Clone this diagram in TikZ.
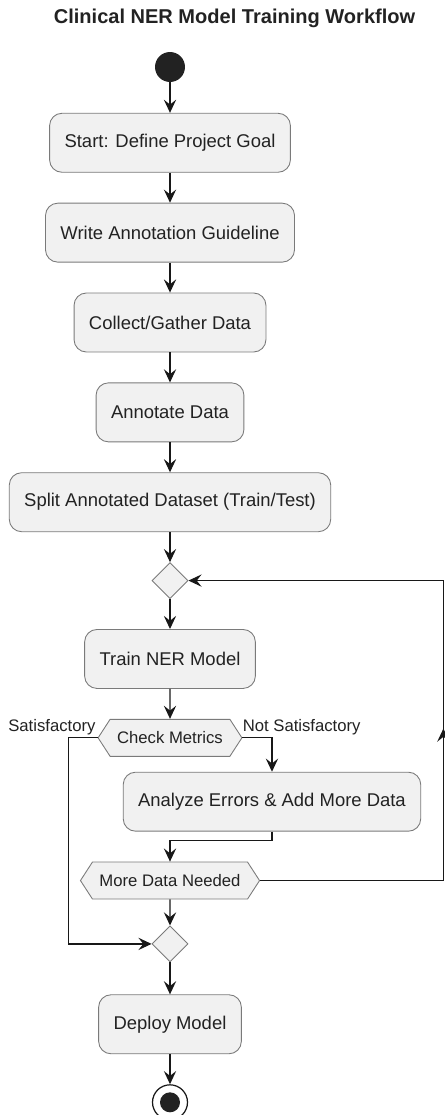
\documentclass[tikz,border=0pt]{standalone}
\usepackage{fontspec}
\setmainfont{Liberation Sans}
\usetikzlibrary{
  shapes.geometric,
  shapes.symbols,
  positioning,
  arrows.meta
}
\definecolor{umlfill}{HTML}{F1F1F1}
\definecolor{umlborder}{HTML}{7A7A7A}
\definecolor{umlline}{HTML}{181818}
\definecolor{umldark}{HTML}{222222}
\tikzset{
  >={Stealth[length=7.5pt,width=7pt,inset=2.8pt]},
  act/.style={rectangle,rounded corners=7pt,draw=umlborder,fill=umlfill,line width=0.5pt,
    minimum height=1.18cm,inner xsep=8.5pt,text=umldark,font=\fontsize{10.5}{12}\selectfont},
  merge/.style={diamond,draw=umlborder,fill=umlfill,line width=0.5pt,
    minimum width=0.72cm,minimum height=0.72cm,inner sep=0pt},
  test/.style={signal,signal to=west and east,signal pointer angle=114,draw=umlborder,
    fill=umlfill,line width=0.5pt,minimum height=0.74cm,inner xsep=4pt,text=umldark,
    font=\fontsize{9.5}{11}\selectfont},
  guard/.style={inner sep=0pt,text=umldark,font=\fontsize{9.5}{11}\selectfont},
  flow/.style={->,line width=0.7pt,draw=umlline}
}
\begin{document}
\begin{tikzpicture}[x=0.02cm,y=-0.02cm,node distance=0.6cm]
    \useasboundingbox (0,0) rectangle (445,1115);

    \node[font=\bfseries\fontsize{11.4}{13}\selectfont,text=umldark] (title) at (234.5,18) {Clinical NER Model Training Workflow};
    \node[circle,fill=umldark,minimum size=0.6cm,inner sep=0pt] (start) at (170,67) {};
    \node[act,below=0.61cm of start] (goal) {Start: Define Project Goal};
    \node[act,below=of goal] (guide) {Write Annotation Guideline};
    \node[act,below=of guide] (collect) {Collect/Gather Data};
    \node[act,below=of collect] (annot) {Annotate Data};
    \node[act,below=of annot] (split) {Split Annotated Dataset (Train/Test)};
    \node[merge,below=of split] (loop) {};
    \node[act,below=of loop] (train) {Train NER Model};
    \node[test,below=of train] (check) {Check Metrics};
    \node[act,below=0.3cm of check,xshift=2.04cm] (analyze) {Analyze Errors \& Add More Data};
    \node[test,below=of analyze,xshift=-2.04cm] (more) {More Data Needed};
    \node[merge,below=0.52cm of more] (join) {};
    \node[act,below=0.64cm of join] (deploy) {Deploy Model};
    \node[circle,draw=umlline,line width=0.7pt,fill=white,minimum size=0.7cm,inner sep=0pt,
      path picture={\fill[umldark] (path picture bounding box.center) circle (0.2cm);},
      below=of deploy] (stop) {};
    \coordinate (back) at ([xshift=5.1cm]loop.east);

    \node[guard,anchor=base east,yshift=0.13cm,xshift=-1pt] (sat) at (check.west) {Satisfactory};
    \node[guard,anchor=base west,yshift=0.13cm] (notsat) at (check.east) {Not Satisfactory};

    \draw[flow] (start) -- (goal);
    \draw[flow] (goal) -- (guide);
    \draw[flow] (guide) -- (collect);
    \draw[flow] (collect) -- (annot);
    \draw[flow] (annot) -- (split);
    \draw[flow] (split) -- (loop);
    \draw[flow] (loop) -- (train);
    \draw[flow] (train) -- (check);
    \draw[flow] (check.west) -- +(-29,0) |- (join.west);
    \draw[flow] (check.east) -| (analyze.north);
    \draw[flow] (analyze.south) -- +(0,9) -| (more.north);
    \draw[flow] (more.east) -| (back) -- (loop.east);
    \draw[flow] (more.east -| back) -- +(0,-152);
    \draw[flow] (more) -- (join);
    \draw[flow] (join) -- (deploy);
    \draw[flow] (deploy) -- (stop);
  \end{tikzpicture}
\end{document}
